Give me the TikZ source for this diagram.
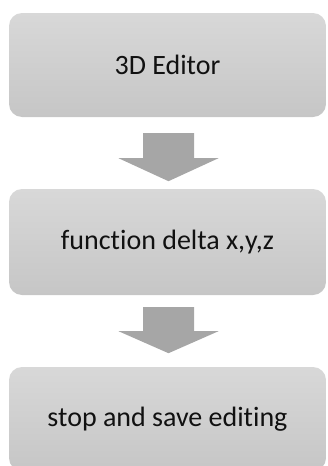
\documentclass[tikz,border=0pt]{standalone}
\usepackage{fontspec}
\setmainfont{Carlito}[Ligatures={NoCommon}]
\usetikzlibrary{calc}
\definecolor{boxtop}{HTML}{D8D8D8}
\definecolor{boxbot}{HTML}{C6C6C6}
\definecolor{arrowgray}{HTML}{A6A6A6}
\definecolor{txt}{HTML}{111111}
\begin{document}
\begin{tikzpicture}[x=1pt,y=-1pt,
  stepbox/.style={rectangle, rounded corners=13pt, top color=boxtop, bottom color=boxbot,
    draw=none, minimum width=317pt, inner sep=0pt, text=txt,
    font=\fontsize{28}{32}\selectfont},
  blockarrow/.style={fill=arrowgray, draw=none}]
\useasboundingbox (0,0) rectangle (327,466);
\begin{scope}
\clip (0,0) rectangle (327,466);
\node[stepbox, minimum height=104pt] (b1) at (167.5,65) {3D Editor};
\node[stepbox, minimum height=106pt] (b2) at (167.5,242) {function delta x,y,z};
\node[stepbox, minimum height=104pt] (b3) at (167.5,419) {stop and save editing};
\end{scope}
% block arrows between boxes
\coordinate (a1) at ($(b1.south)+(1,16)$);
\coordinate (a2) at ($(b2.south)+(1,12)$);
\fill[blockarrow] ($(a1)+(-25.5,0)$) -- ($(a1)+(25.5,0)$) -- ($(a1)+(25.5,25)$) -- ($(a1)+(50,25)$)
  -- ($(a1)+(0,48)$) -- ($(a1)+(-50,25)$) -- ($(a1)+(-25.5,25)$) -- cycle;
\fill[blockarrow] ($(a2)+(-25.5,0)$) -- ($(a2)+(25.5,0)$) -- ($(a2)+(25.5,24)$) -- ($(a2)+(50,24)$)
  -- ($(a2)+(0,46)$) -- ($(a2)+(-50,24)$) -- ($(a2)+(-25.5,24)$) -- cycle;
\end{tikzpicture}
\end{document}
